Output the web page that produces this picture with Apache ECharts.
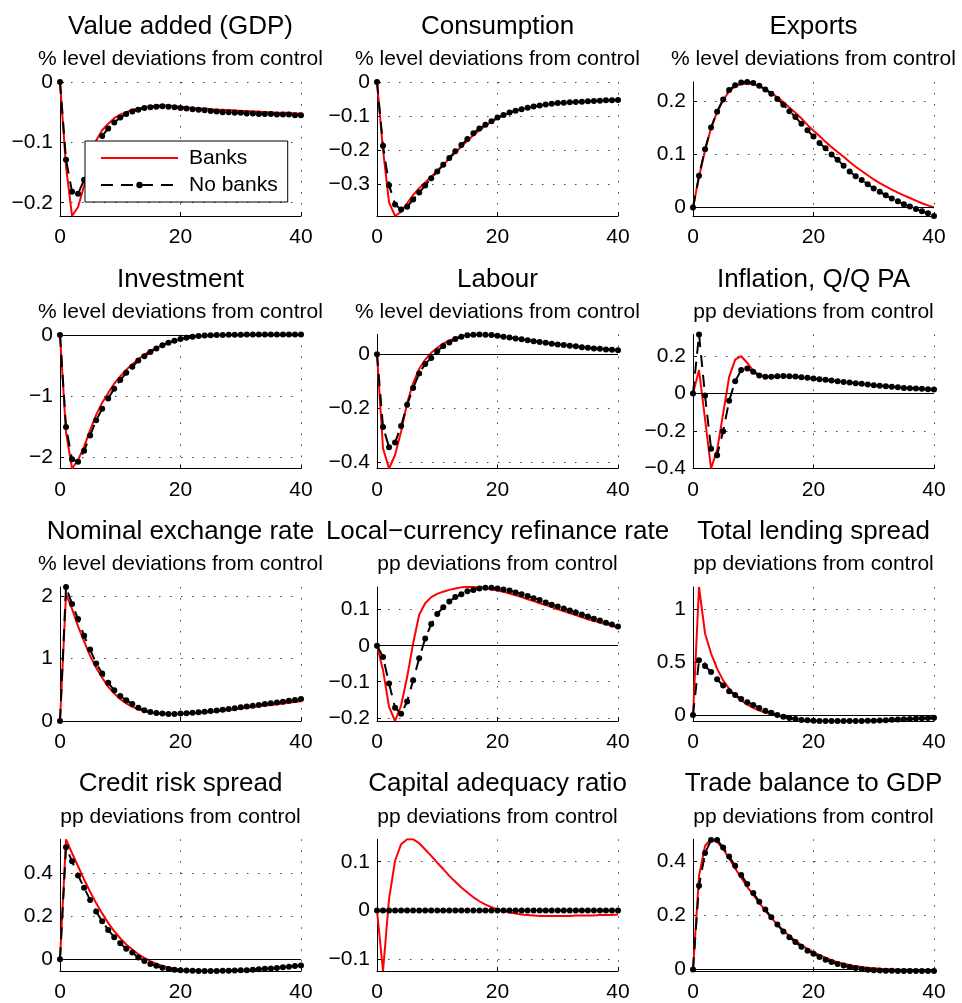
<!DOCTYPE html>
<html><head><meta charset="utf-8">
<script src="https://cdn.jsdelivr.net/npm/echarts@6/dist/echarts.min.js"></script>
<style>html,body{margin:0;padding:0;background:#fff}#c{width:962px;height:1003px}</style>
</head><body><div id="c"></div>
<script>
const quarters = [0,1,2,3,4,5,6,7,8,9,10,11,12,13,14,15,16,17,18,19,20,21,22,23,24,25,26,27,28,29,30,31,32,33,34,35,36,37,38,39,40];
const xTicks = [0,20,40];

const gdpBanks = [0,-0.14,-0.222,-0.207,-0.172,-0.132,-0.097,-0.080,-0.069,-0.060,-0.054,-0.050,-0.046,-0.044,-0.042,-0.040,-0.039,-0.039,-0.039,-0.040,-0.041,-0.042,-0.043,-0.044,-0.044,-0.045,-0.046,-0.046,-0.047,-0.047,-0.048,-0.048,-0.049,-0.049,-0.050,-0.050,-0.051,-0.051,-0.051,-0.052,-0.052];
const gdpNoBanks = [0,-0.129,-0.182,-0.185,-0.162,-0.135,-0.108,-0.0895,-0.077,-0.067,-0.059,-0.053,-0.049,-0.046,-0.043,-0.042,-0.041,-0.040,-0.041,-0.042,-0.043,-0.044,-0.045,-0.046,-0.047,-0.048,-0.049,-0.050,-0.050,-0.051,-0.051,-0.052,-0.052,-0.053,-0.053,-0.053,-0.054,-0.054,-0.054,-0.055,-0.055];
const gdpTicks = [-0.2,-0.1,0];

const consBanks = [0,-0.20,-0.355,-0.395,-0.383,-0.358,-0.333,-0.313,-0.296,-0.279,-0.262,-0.244,-0.226,-0.208,-0.190,-0.173,-0.157,-0.142,-0.129,-0.117,-0.107,-0.098,-0.091,-0.085,-0.080,-0.076,-0.072,-0.069,-0.067,-0.065,-0.063,-0.061,-0.060,-0.059,-0.058,-0.057,-0.056,-0.055,-0.055,-0.054,-0.054];
const consNoBanks = [0,-0.188,-0.304,-0.361,-0.376,-0.368,-0.346,-0.326,-0.305,-0.284,-0.264,-0.244,-0.224,-0.204,-0.186,-0.168,-0.151,-0.137,-0.126,-0.116,-0.105,-0.097,-0.090,-0.085,-0.080,-0.076,-0.072,-0.069,-0.066,-0.064,-0.062,-0.061,-0.060,-0.059,-0.058,-0.057,-0.056,-0.055,-0.054,-0.054,-0.053];
const consTicks = [-0.3,-0.2,-0.1,0];

const exportsBanks = [0,0.058,0.108,0.150,0.180,0.203,0.219,0.229,0.233,0.234,0.233,0.229,0.223,0.216,0.208,0.199,0.189,0.179,0.168,0.156,0.145,0.135,0.124,0.114,0.105,0.096,0.086,0.077,0.069,0.061,0.053,0.046,0.040,0.034,0.028,0.023,0.018,0.013,0.008,0.004,0.000];
const exportsNoBanks = [0,0.060,0.110,0.151,0.181,0.204,0.222,0.231,0.236,0.237,0.235,0.230,0.223,0.215,0.205,0.194,0.182,0.171,0.158,0.146,0.134,0.122,0.112,0.100,0.090,0.079,0.068,0.059,0.052,0.044,0.036,0.030,0.023,0.017,0.012,0.006,0.002,-0.003,-0.007,-0.011,-0.016];
const exportsTicks = [0,0.1,0.2];

const invBanks = [0,-1.6,-2.19,-2.05,-1.83,-1.56,-1.31,-1.11,-0.95,-0.80,-0.68,-0.57,-0.48,-0.40,-0.32,-0.26,-0.21,-0.165,-0.125,-0.097,-0.072,-0.052,-0.037,-0.025,-0.016,-0.010,-0.005,-0.002,0.000,0.002,0.003,0.004,0.005,0.005,0.006,0.006,0.006,0.006,0.006,0.006,0.006];
const invNoBanks = [0,-1.51,-2.04,-2.08,-1.90,-1.65,-1.40,-1.21,-1.04,-0.88,-0.74,-0.62,-0.52,-0.42,-0.35,-0.28,-0.22,-0.17,-0.127,-0.094,-0.066,-0.044,-0.028,-0.017,-0.010,-0.005,-0.002,0.000,0.002,0.004,0.005,0.006,0.007,0.008,0.008,0.008,0.008,0.008,0.008,0.008,0.008];
const invTicks = [-2,-1,0];

const labBanks = [0,-0.35,-0.424,-0.374,-0.287,-0.181,-0.107,-0.055,-0.020,0.005,0.024,0.039,0.050,0.060,0.066,0.071,0.073,0.073,0.072,0.071,0.068,0.065,0.062,0.058,0.055,0.052,0.048,0.045,0.042,0.039,0.036,0.034,0.031,0.029,0.026,0.024,0.022,0.020,0.018,0.016,0.015];
const labNoBanks = [0,-0.27,-0.345,-0.328,-0.266,-0.188,-0.125,-0.072,-0.036,-0.014,0.011,0.030,0.043,0.056,0.065,0.070,0.072,0.073,0.072,0.071,0.068,0.065,0.062,0.058,0.055,0.052,0.048,0.045,0.042,0.039,0.036,0.034,0.031,0.029,0.026,0.024,0.021,0.020,0.017,0.016,0.015];
const labTicks = [-0.4,-0.2,0];

const inflBanks = [0,0.125,-0.137,-0.40,-0.302,-0.107,0.089,0.181,0.199,0.164,0.121,0.098,0.092,0.090,0.091,0.092,0.091,0.089,0.086,0.083,0.079,0.075,0.072,0.068,0.065,0.061,0.058,0.054,0.051,0.047,0.044,0.041,0.038,0.035,0.033,0.030,0.028,0.026,0.024,0.022,0.020];
const inflNoBanks = [0,0.315,-0.011,-0.294,-0.329,-0.201,-0.039,0.066,0.125,0.133,0.116,0.096,0.089,0.089,0.092,0.094,0.092,0.091,0.087,0.084,0.080,0.076,0.073,0.069,0.066,0.062,0.059,0.055,0.052,0.048,0.044,0.041,0.039,0.036,0.034,0.030,0.028,0.027,0.025,0.023,0.021];
const inflTicks = [-0.4,-0.2,0,0.2];

const fxBanks = [0,2.03,1.79,1.51,1.27,1.04,0.85,0.69,0.545,0.44,0.35,0.28,0.225,0.187,0.155,0.134,0.123,0.114,0.110,0.110,0.115,0.119,0.124,0.130,0.137,0.144,0.154,0.165,0.176,0.187,0.198,0.210,0.222,0.234,0.246,0.257,0.269,0.281,0.293,0.305,0.316];
const fxNoBanks = [0,2.14,1.87,1.63,1.36,1.14,0.92,0.76,0.61,0.49,0.40,0.33,0.27,0.21,0.17,0.144,0.128,0.118,0.112,0.112,0.118,0.124,0.131,0.139,0.148,0.158,0.169,0.181,0.193,0.205,0.218,0.231,0.244,0.257,0.270,0.283,0.296,0.309,0.322,0.335,0.350];
const fxTicks = [0,1,2];

const rateBanks = [0,-0.068,-0.170,-0.209,-0.166,-0.087,0.007,0.086,0.118,0.135,0.144,0.150,0.155,0.159,0.162,0.163,0.163,0.162,0.160,0.157,0.153,0.150,0.145,0.140,0.135,0.129,0.124,0.118,0.113,0.107,0.101,0.096,0.090,0.085,0.079,0.073,0.069,0.064,0.060,0.055,0.050];
const rateNoBanks = [0,-0.031,-0.105,-0.172,-0.189,-0.155,-0.096,-0.035,0.020,0.060,0.088,0.107,0.123,0.135,0.143,0.151,0.155,0.159,0.161,0.161,0.159,0.156,0.153,0.148,0.143,0.138,0.132,0.127,0.120,0.114,0.109,0.103,0.098,0.092,0.087,0.081,0.075,0.070,0.064,0.059,0.053];
const rateTicks = [-0.2,-0.1,0,0.1];

const spreadBanks = [0,1.21,0.771,0.581,0.438,0.327,0.248,0.184,0.137,0.098,0.067,0.041,0.022,0.006,-0.006,-0.019,-0.029,-0.038,-0.044,-0.050,-0.053,-0.055,-0.056,-0.057,-0.057,-0.057,-0.057,-0.056,-0.055,-0.053,-0.051,-0.049,-0.047,-0.045,-0.043,-0.041,-0.039,-0.037,-0.035,-0.033,-0.032];
const spreadNoBanks = [0,0.517,0.463,0.406,0.337,0.279,0.225,0.190,0.152,0.121,0.095,0.067,0.041,0.022,0.000,-0.016,-0.029,-0.038,-0.048,-0.051,-0.054,-0.056,-0.057,-0.057,-0.057,-0.057,-0.057,-0.057,-0.056,-0.055,-0.054,-0.052,-0.049,-0.046,-0.043,-0.040,-0.037,-0.034,-0.031,-0.029,-0.026];
const spreadTicks = [0,0.5,1];

const creditBanks = [0,0.56,0.495,0.434,0.372,0.315,0.262,0.214,0.169,0.131,0.098,0.069,0.045,0.023,0.006,-0.009,-0.022,-0.031,-0.038,-0.043,-0.048,-0.051,-0.052,-0.053,-0.054,-0.054,-0.054,-0.054,-0.053,-0.052,-0.051,-0.050,-0.048,-0.047,-0.045,-0.043,-0.041,-0.038,-0.035,-0.032,-0.029];
const creditNoBanks = [0,0.523,0.457,0.391,0.334,0.277,0.223,0.177,0.137,0.103,0.075,0.049,0.031,0.008,-0.008,-0.022,-0.031,-0.040,-0.046,-0.049,-0.052,-0.053,-0.054,-0.055,-0.055,-0.055,-0.055,-0.054,-0.054,-0.053,-0.052,-0.051,-0.049,-0.047,-0.045,-0.043,-0.041,-0.038,-0.035,-0.032,-0.029];
const creditTicks = [0,0.2,0.4];

const carBanks = [0,-0.124,0.024,0.102,0.136,0.146,0.146,0.138,0.125,0.112,0.098,0.085,0.071,0.059,0.047,0.037,0.027,0.019,0.012,0.007,0.002,-0.001,-0.004,-0.006,-0.008,-0.009,-0.010,-0.011,-0.011,-0.011,-0.011,-0.011,-0.011,-0.010,-0.010,-0.010,-0.010,-0.009,-0.009,-0.009,-0.008];
const carNoBanks = [0,0,0,0,0,0,0,0,0,0,0,0,0,0,0,0,0,0,0,0,0,0,0,0,0,0,0,0,0,0,0,0,0,0,0,0,0,0,0,0,0];
const carTicks = [-0.1,0,0.1];

const tradeBanks = [0,0.347,0.458,0.482,0.473,0.446,0.411,0.374,0.340,0.306,0.276,0.246,0.218,0.191,0.166,0.144,0.124,0.106,0.090,0.076,0.064,0.053,0.043,0.034,0.027,0.021,0.016,0.012,0.009,0.006,0.004,0.002,0.001,0.000,-0.001,-0.001,-0.001,-0.002,-0.002,-0.002,-0.002];
const tradeNoBanks = [0,0.310,0.431,0.479,0.479,0.452,0.418,0.384,0.350,0.316,0.283,0.251,0.222,0.193,0.166,0.140,0.119,0.101,0.084,0.069,0.058,0.046,0.036,0.027,0.020,0.014,0.009,0.005,0.001,-0.001,-0.003,-0.004,-0.005,-0.005,-0.006,-0.006,-0.006,-0.006,-0.006,-0.006,-0.006];
const tradeTicks = [0,0.2,0.4];

const titles = ['Value added (GDP)','Consumption','Exports','Investment','Labour','Inflation, Q/Q PA','Nominal exchange rate','Local\u2212currency refinance rate','Total lending spread','Credit risk spread','Capital adequacy ratio','Trade balance to GDP'];
const subtitles = ['% level deviations from control','% level deviations from control','% level deviations from control','% level deviations from control','% level deviations from control','pp deviations from control','% level deviations from control','pp deviations from control','pp deviations from control','pp deviations from control','pp deviations from control','pp deviations from control'];
const seriesNames = ['Banks','No banks'];

const banksData = [gdpBanks,consBanks,exportsBanks,invBanks,labBanks,inflBanks,fxBanks,rateBanks,spreadBanks,creditBanks,carBanks,tradeBanks];
const noBanksData = [gdpNoBanks,consNoBanks,exportsNoBanks,invNoBanks,labNoBanks,inflNoBanks,fxNoBanks,rateNoBanks,spreadNoBanks,creditNoBanks,carNoBanks,tradeNoBanks];
const tickData = [gdpTicks,consTicks,exportsTicks,invTicks,labTicks,inflTicks,fxTicks,rateTicks,spreadTicks,creditTicks,carTicks,tradeTicks];

const FONT = '"Liberation Sans", Arial, Helvetica, sans-serif';
const colLeft = [60, 377, 693];
const rowTop = [82, 334.5, 587, 839.3];
const W = 241, H = 134;
const fmt = v => (v < 0 ? '\u2212' : '') + String(+Math.abs(v).toFixed(3));
const gridDot = { color: '#444', width: 1, type: [1.5, 9.5] };

const grids = [], xAxes = [], yAxes = [], series = [], titleOpts = [];
for (let i = 0; i < 12; i++) {
  const r = Math.floor(i / 3), c = i % 3;
  const left = colLeft[c], top = rowTop[r];
  grids.push({ left: left, top: top, width: W, height: H, containLabel: false });
  const all = banksData[i].concat(noBanksData[i]);
  const ymin = Math.min.apply(null, all), ymax = Math.max.apply(null, all);
  xAxes.push({
    gridIndex: i, type: 'value', min: 0, max: 40, interval: 20,
    axisLine: { show: true, onZero: false, lineStyle: { color: '#000', width: 1 } },
    axisTick: { show: true, inside: true, length: 4, customValues: xTicks, lineStyle: { color: '#000' } },
    axisLabel: { show: true, color: '#000', fontSize: 21, fontFamily: FONT, margin: 11, customValues: xTicks },
    splitLine: { show: true, lineStyle: gridDot }
  });
  yAxes.push({
    gridIndex: i, type: 'value', min: ymin, max: ymax,
    axisLine: { show: true, onZero: false, lineStyle: { color: '#000', width: 1 } },
    axisTick: { show: true, inside: true, length: 4, customValues: tickData[i], lineStyle: { color: '#000' } },
    axisLabel: { show: true, color: '#000', fontSize: 21, fontFamily: FONT, margin: 7, customValues: tickData[i], formatter: fmt },
    splitLine: { show: true, lineStyle: gridDot }
  });
  const span = ymax - ymin;
  const zeroInside = ymin < -0.01 * span && ymax > 0.001 * span;
  series.push({
    type: 'line', name: seriesNames[0], xAxisIndex: i, yAxisIndex: i,
    data: quarters.map((q, k) => [q, banksData[i][k]]),
    symbol: 'none', showSymbol: false,
    lineStyle: { color: '#ff0000', width: 2 }, itemStyle: { color: '#ff0000' },
    animation: false, silent: true,
    markLine: zeroInside ? { silent: true, symbol: ['none', 'none'], animation: false, label: { show: false },
      lineStyle: { color: '#000', width: 1, type: 'solid' }, data: [{ yAxis: 0 }] } : undefined,
    z: 3
  });
  series.push({
    type: 'line', name: seriesNames[1], xAxisIndex: i, yAxisIndex: i,
    data: quarters.map((q, k) => [q, noBanksData[i][k]]),
    symbol: 'circle', symbolSize: 6, showSymbol: true,
    lineStyle: { color: '#000', width: 2, type: [12, 8] }, itemStyle: { color: '#000' },
    animation: false, silent: true, z: 4
  });
  titleOpts.push({
    text: titles[i], subtext: subtitles[i],
    left: left + W / 2, top: top - 68, textAlign: 'center', padding: 0, itemGap: 9,
    textStyle: { fontSize: 26, fontWeight: 'normal', color: '#000', fontFamily: FONT },
    subtextStyle: { fontSize: 21, color: '#000', fontFamily: FONT }
  });
}

const chart = echarts.init(document.getElementById('c'), null, { renderer: 'canvas' });
chart.setOption({
  backgroundColor: '#fff',
  animation: false,
  title: titleOpts,
  grid: grids,
  xAxis: xAxes,
  yAxis: yAxes,
  legend: {
    data: [
      { name: seriesNames[0], itemStyle: { color: 'rgba(0,0,0,0)', borderWidth: 0, opacity: 0 } },
      { name: seriesNames[1] }
    ],
    orient: 'vertical', left: 85, top: 141,
    itemWidth: 77, itemHeight: 8, itemGap: 3, padding: [5, 10, 5, 15],
    backgroundColor: '#fff', borderColor: '#000', borderWidth: 1, borderRadius: 0,
    selectedMode: false, z: 20,
    textStyle: { fontSize: 21, fontFamily: FONT, color: '#000', lineHeight: 24, padding: [0, 0, 0, 6] }
  },
  series: series
});
</script>
</body></html>
